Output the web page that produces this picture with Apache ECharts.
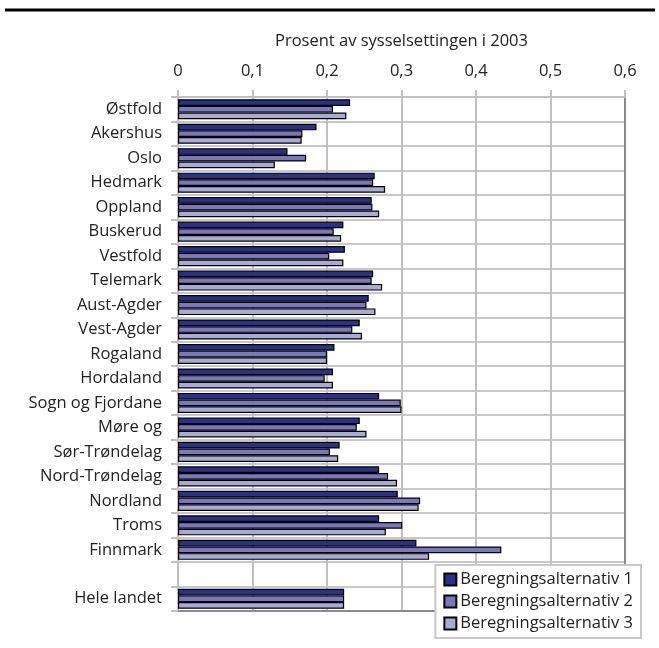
<!DOCTYPE html>
<html>
<head>
<meta charset="utf-8">
<script src="https://cdn.jsdelivr.net/npm/echarts@6/dist/echarts.min.js"></script>
<style>
html,body{margin:0;padding:0;background:#fff;}
#chart{width:659px;height:648px;}
</style>
</head>
<body>
<div id="chart"></div>
<script>
const categories = ['Østfold','Akershus','Oslo','Hedmark','Oppland','Buskerud','Vestfold','Telemark','Aust-Agder','Vest-Agder','Rogaland','Hordaland','Sogn og Fjordane','Møre og','Sør-Trøndelag','Nord-Trøndelag','Nordland','Troms','Finnmark','','Hele landet'];
const seriesNames = ['Beregningsalternativ 1','Beregningsalternativ 2','Beregningsalternativ 3'];
const alt1 = [0.231,0.186,0.147,0.264,0.260,0.222,0.224,0.262,0.256,0.244,0.210,0.208,0.270,0.244,0.217,0.270,0.295,0.270,0.320,null,0.223];
const alt2 = [0.208,0.167,0.172,0.262,0.261,0.209,0.203,0.260,0.253,0.234,0.200,0.197,0.299,0.240,0.204,0.282,0.325,0.301,0.434,null,0.223];
const alt3 = [0.226,0.166,0.130,0.278,0.270,0.219,0.222,0.274,0.265,0.247,0.200,0.208,0.300,0.253,0.215,0.294,0.323,0.279,0.337,null,0.223];
const xTicks = {min:0, max:0.6, interval:0.1};
const colors = ['#2b3185','#7878bb','#aaaad6'];
const font = '"Open Sans", "Noto Sans", sans-serif';
const fs = 16.5;

const chart = echarts.init(document.getElementById('chart'), null, {renderer:'canvas'});
const values = [alt1, alt2, alt3];
chart.setOption({
  animation:false,
  backgroundColor:'#fff',
  textStyle:{fontFamily:font},
  graphic:[{type:'line', shape:{x1:5,y1:10,x2:655,y2:10}, style:{stroke:'#000',lineWidth:3}}],
  grid:{left:178, right:34, top:97, bottom:37, containLabel:false},
  legend:{
    orient:'vertical', right:18, top:565,
    data:seriesNames, icon:'rect',
    backgroundColor:'#fff', borderColor:'#c8c8c8', borderWidth:2, borderRadius:0,
    padding:[6,8,6,8], itemWidth:12, itemHeight:12, itemGap:5,
    textStyle:{fontSize:fs, color:'#222', fontFamily:font, padding:[0,0,0,-1]}
  },
  xAxis:[{
    type:'value', position:'top', min:xTicks.min, max:xTicks.max, interval:xTicks.interval,
    name:'Prosent av sysselsettingen i 2003', nameLocation:'middle', nameGap:47,
    nameTextStyle:{fontSize:fs, color:'#222', fontFamily:font},
    axisLine:{show:true, lineStyle:{color:'#c0c0c0', width:2}},
    axisTick:{show:true, inside:false, length:7, lineStyle:{color:'#c0c0c0', width:2}},
    axisLabel:{fontSize:fs, color:'#222', margin:17, fontFamily:font,
      formatter:v => String(Math.round(v*10)/10).replace('.', ',')},
    splitLine:{show:true, lineStyle:{color:'#c0c0c0', width:2}}
  },{
    type:'value', position:'bottom', min:xTicks.min, max:xTicks.max, interval:xTicks.interval,
    axisLine:{show:true, onZero:false, lineStyle:{color:'#8a8a8a', width:2}},
    axisTick:{show:false}, axisLabel:{show:false}, splitLine:{show:false}
  }],
  yAxis:[{
    type:'category', inverse:true, data:categories,
    axisLine:{show:true, lineStyle:{color:'#c0c0c0', width:2}},
    axisTick:{show:true, inside:false, length:7, lineStyle:{color:'#c0c0c0', width:2}},
    axisLabel:{fontSize:fs, color:'#222', margin:16, fontFamily:font},
    splitLine:{show:true, lineStyle:{color:'#c8c8c8', width:2}}
  },{
    type:'category', inverse:true, data:categories, position:'right',
    axisLine:{show:true, onZero:false, lineStyle:{color:'#8a8a8a', width:2}},
    axisTick:{show:false}, axisLabel:{show:false}, splitLine:{show:false}
  }],
  series: seriesNames.map((n,i) => ({
    name:n, type:'bar', xAxisIndex:0, yAxisIndex:0, data:values[i],
    barGap:'0%', barCategoryGap:'18%',
    itemStyle:{color:colors[i], borderColor:'#000', borderWidth:1.2}
  }))
});
</script>
</body>
</html>
